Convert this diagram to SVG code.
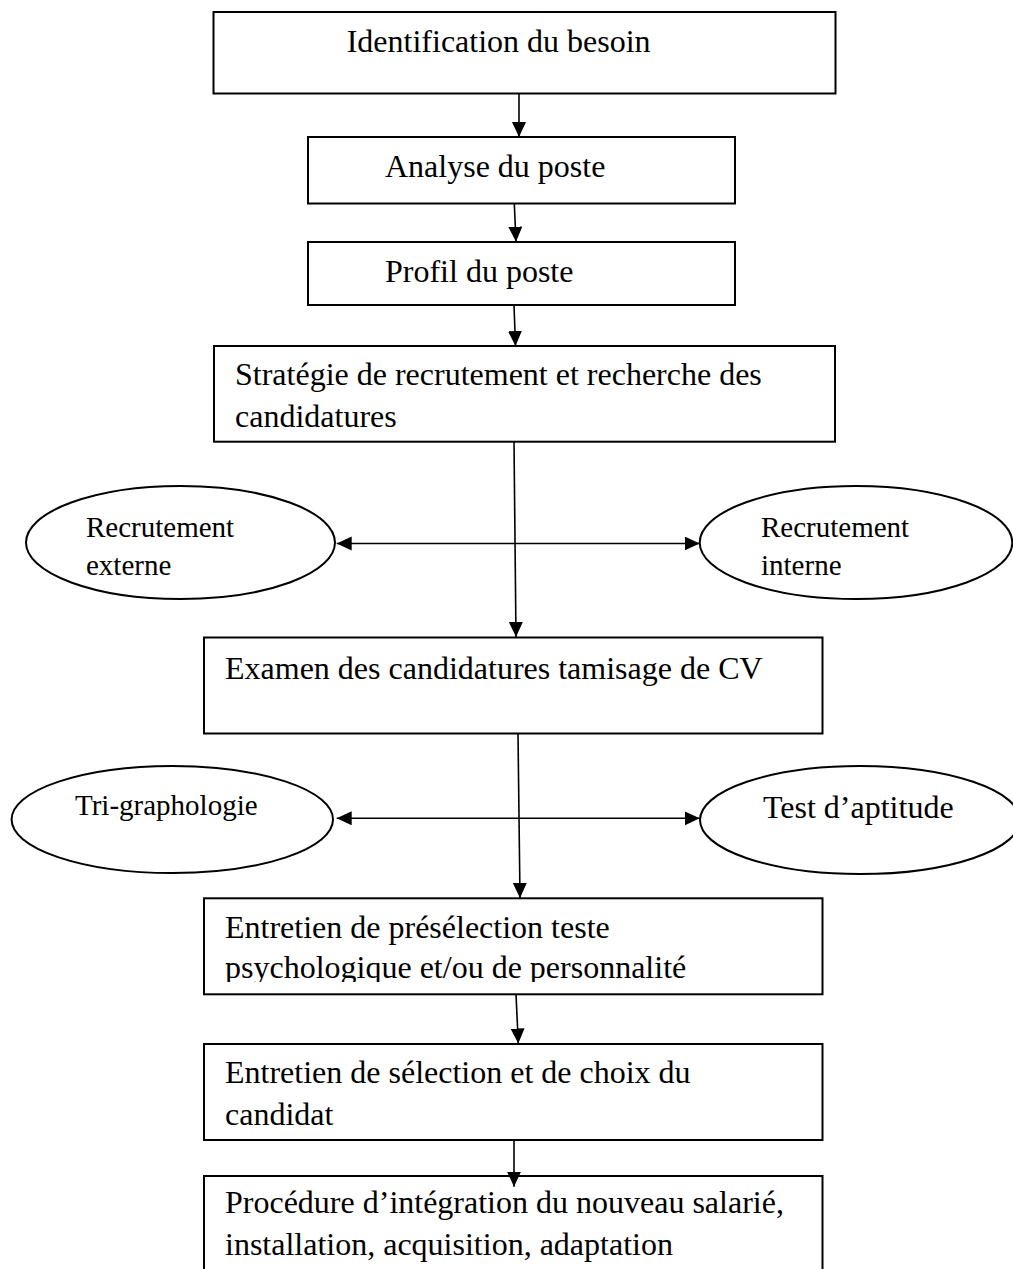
<svg xmlns="http://www.w3.org/2000/svg" width="1013" height="1269" viewBox="0 0 1013 1269">
  <style>
    .box { fill: #fff; stroke: #000; stroke-width: 2; }
    .ell { fill: #fff; stroke: #000; stroke-width: 2; }
    .t { font-family: "Liberation Serif", "Times New Roman", serif; font-size: 32px; fill: #000; }
    .ts { font-family: "Liberation Serif", "Times New Roman", serif; font-size: 29px; fill: #000; }
    .c { fill: none; stroke: #000; stroke-width: 1.6; }
  </style>
  <defs>
    <marker id="arr" markerUnits="userSpaceOnUse" markerWidth="16" markerHeight="15" refX="15" refY="7" orient="auto-start-reverse">
      <path d="M0,0 L15,7 L0,14 z" fill="#000"/>
    </marker>
    <clipPath id="clipPsy">
      <rect x="204" y="898" width="618" height="84"/>
    </clipPath>
  </defs>

  <g id="n-identification">
    <rect class="box" x="213.5" y="12" width="622" height="81.5"/>
    <text class="t" x="346.7" y="51.7">Identification du besoin</text>
  </g>
  <g id="n-analyse">
    <rect class="box" x="308" y="137" width="427" height="66.5"/>
    <text class="t" x="385" y="176.7">Analyse du poste</text>
  </g>
  <g id="n-profil">
    <rect class="box" x="308" y="242" width="427" height="63"/>
    <text class="t" x="385" y="281.7">Profil du poste</text>
  </g>
  <g id="n-strategie">
    <rect class="box" x="214" y="346" width="621" height="95.7"/>
    <text class="t" x="235" y="385">Stratégie de recrutement et recherche des</text>
    <text class="t" x="235" y="427.3">candidatures</text>
  </g>
  <g id="n-externe">
    <ellipse class="ell" cx="180.5" cy="542.5" rx="154.5" ry="56.5"/>
    <text class="ts" x="86" y="536.7">Recrutement</text>
    <text class="ts" x="86" y="575">externe</text>
  </g>
  <g id="n-interne">
    <ellipse class="ell" cx="856" cy="542.5" rx="156.3" ry="56.5"/>
    <text class="ts" x="761" y="536.7">Recrutement</text>
    <text class="ts" x="761" y="575">interne</text>
  </g>
  <g id="n-examen">
    <rect class="box" x="204" y="637.5" width="618.5" height="96"/>
    <text class="t" x="225" y="679">Examen des candidatures tamisage de CV</text>
  </g>
  <g id="n-tri">
    <ellipse class="ell" cx="172.3" cy="819.5" rx="160.7" ry="53.5"/>
    <text class="ts" x="75" y="815">Tri-graphologie</text>
  </g>
  <g id="n-test">
    <ellipse class="ell" cx="860" cy="820" rx="160" ry="54"/>
    <text class="t" x="763" y="818.3">Test d’aptitude</text>
  </g>
  <g id="n-preselection">
    <rect class="box" x="204" y="898.3" width="618.5" height="96"/>
    <text class="t" x="225" y="938.3">Entretien de présélection teste</text>
    <text class="t" x="225" y="978.3" clip-path="url(#clipPsy)">psychologique et/ou de personnalité</text>
  </g>
  <g id="n-selection">
    <rect class="box" x="204" y="1044" width="618.5" height="96"/>
    <text class="t" x="225" y="1083.3">Entretien de sélection et de choix du</text>
    <text class="t" x="225" y="1125">candidat</text>
  </g>
  <g id="n-procedure">
    <rect class="box" x="204" y="1176" width="618.5" height="110"/>
    <text class="t" x="225" y="1213.3">Procédure d’intégration du nouveau salarié,</text>
    <text class="t" x="225" y="1255">installation, acquisition, adaptation</text>
  </g>

  <g id="connectors">
    <line class="c" x1="519" y1="93.5" x2="519" y2="137" marker-end="url(#arr)"/>
    <line class="c" x1="514.3" y1="203.5" x2="516" y2="241.7" marker-end="url(#arr)"/>
    <line class="c" x1="514" y1="305" x2="515.5" y2="346" marker-end="url(#arr)"/>
    <line class="c" x1="514" y1="441.7" x2="516" y2="637" marker-end="url(#arr)"/>
    <line class="c" x1="518" y1="733.5" x2="520" y2="898" marker-end="url(#arr)"/>
    <line class="c" x1="516" y1="994.3" x2="518.3" y2="1043.5" marker-end="url(#arr)"/>
    <line class="c" x1="514" y1="1140" x2="514" y2="1186.7" marker-end="url(#arr)"/>
    <line class="c" x1="336.7" y1="543.5" x2="699.7" y2="543.5" marker-start="url(#arr)" marker-end="url(#arr)"/>
    <line class="c" x1="336.7" y1="818.3" x2="699.7" y2="818.3" marker-start="url(#arr)" marker-end="url(#arr)"/>
  </g>
</svg>
